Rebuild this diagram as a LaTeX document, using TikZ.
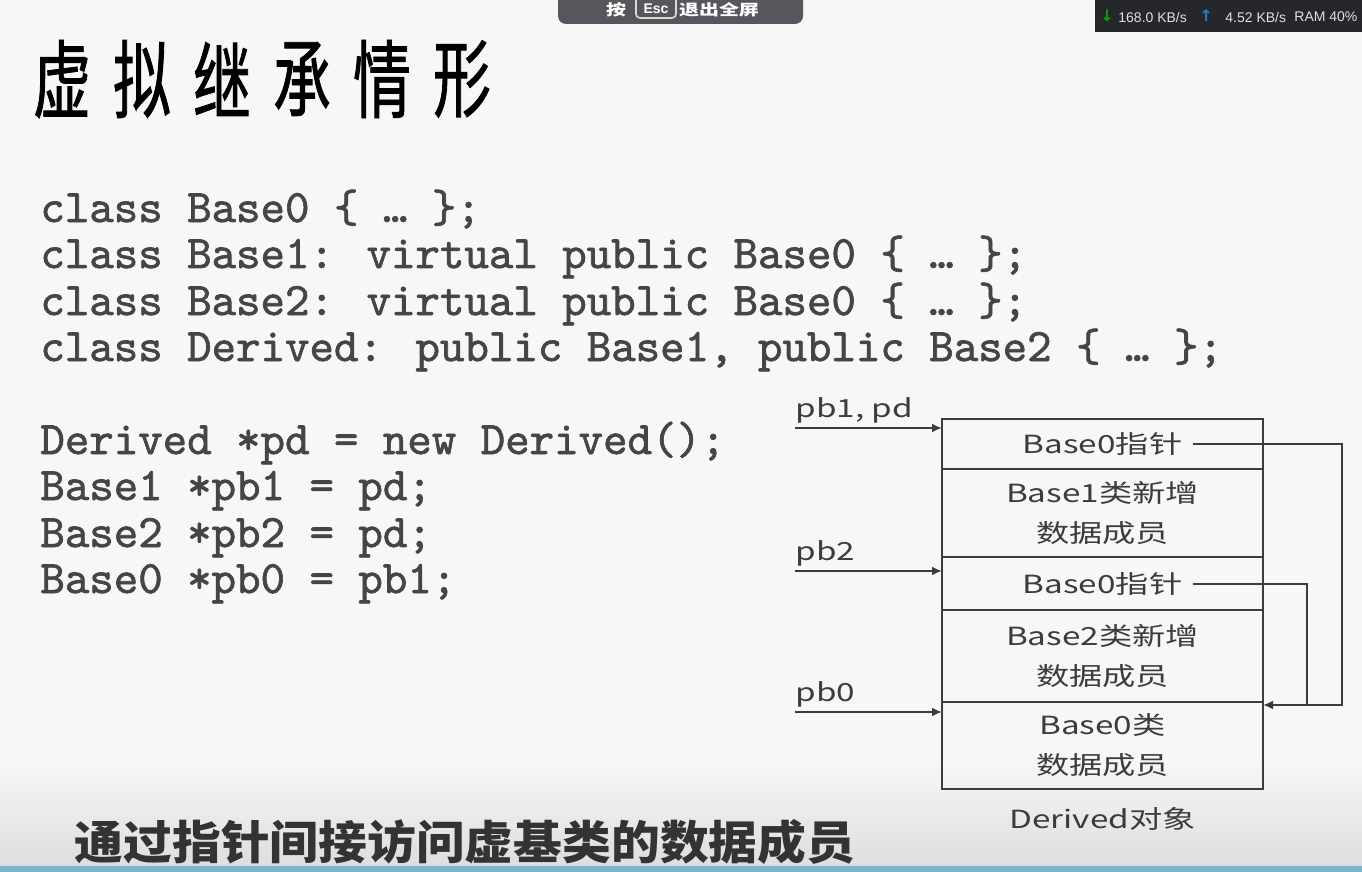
\documentclass[tikz,border=0pt]{standalone}
\usepackage{fontspec}
\setmainfont{Liberation Sans}
\newfontfamily\codefont[Extension=.otf, FakeBold=1.4]{lmmono10-regular}
\newfontfamily\cjkwide[FakeStretch=1.33]{Noto Sans CJK SC}
\newfontfamily\cjktitle[FakeStretch=0.68, FakeBold=1]{Noto Sans CJK SC}
\newfontfamily\cjkfoot[FakeStretch=1.06]{Noto Sans CJK SC}
\newfontfamily\symfont{DejaVu Sans}
\usetikzlibrary{positioning,arrows.meta}

\definecolor{inkgray}{HTML}{3C3C3C}
\definecolor{codegray}{HTML}{454545}
\definecolor{barbg}{HTML}{55575C}
\definecolor{statbg}{HTML}{25272B}
\definecolor{edgeblue}{HTML}{7DB4CB}

\tikzset{
  code/.style={anchor=base west, inner sep=0pt, text=codegray, font=\codefont\fontsize{23.3}{25}\selectfont},
  cell/.style={draw=inkgray, line width=1.3pt, minimum width=160.5pt, inner sep=0pt, outer sep=0pt, align=center, text=inkgray, font=\cjkwide\fontsize{12.5}{20}\selectfont},
  lbl/.style={inner sep=0pt, text=inkgray, font=\cjkwide\fontsize{12.5}{20}\selectfont},
  ptr/.style={draw=inkgray, line width=1pt, -{Latex[length=5pt,width=4.5pt]}},
  link/.style={draw=inkgray, line width=1pt},
  stat/.style={inner sep=0pt, text=white!88!black, font=\fontsize{7}{8}\selectfont},
  hint/.style={inner sep=0pt, text=white, font=\cjkwide\bfseries\fontsize{7.5}{8}\selectfont},
}

\begin{document}
\begin{tikzpicture}[x=0.5pt, y=-0.5pt]
    % page and screen overlays
    \useasboundingbox (0,0) rectangle (1362,872);
    \fill[white!97!black] (0,0) rectangle (1362,872);
    \shade[top color=white!97!black, bottom color=black!13] (0,760) rectangle (1362,866);
    \fill[edgeblue] (0,866) rectangle (1362,872);

    \fill[barbg, rounded corners=4pt] (558,-12) rectangle (803,24);
    \draw[white!85!black, rounded corners=2pt, line width=0.8pt] (636,-6) rectangle (676,18);
    \node[hint] (hint1) at (616,10) {按};
    \node[hint, font=\bfseries\fontsize{7}{8}\selectfont] (hint2) at (656,9) {Esc};
    \node[hint] (hint3) at (719,10) {退出全屏};

    \fill[statbg] (1095,0) rectangle (1362,32);
    \node[stat, text=green!65!black, font=\symfont\bfseries\fontsize{8}{9}\selectfont] (dnarrow) at (1107,16) {↓};
    \node[stat, anchor=west] (dnrate) at (1118,17) {168.0 KB/s};
    \node[stat, text=cyan!70!blue, font=\symfont\bfseries\fontsize{8}{9}\selectfont] (uparrow) at (1206,16) {↑};
    \node[stat, anchor=west] (uprate) at (1225,17) {4.52 KB/s};
    \node[stat, anchor=west] (ram) at (1294,17) {RAM 40\%};

    % title
    \foreach \ch [count=\i] in {虚,拟,继,承,情,形}
        \node[inner sep=0pt, text=black, font=\cjktitle\fontsize{42.5}{44}\selectfont] (ttl\i) at ({62+80*(\i-1)},79) {\ch};

    % class declarations
    \node[code] (c1) at (40,222) {class Base0 \{ … \};};
    \node[code] (c2) at (40,268) {class Base1: virtual public Base0 \{ … \};};
    \node[code] (c3) at (40,315) {class Base2: virtual public Base0 \{ … \};};
    \node[code] (c4) at (40,361) {class Derived: public Base1, public Base2 \{ … \};};

    % pointers
    \node[code] (d1) at (40,454) {Derived *pd = new Derived();};
    \node[code] (d2) at (40,500) {Base1 *pb1 = pd;};
    \node[code] (d3) at (40,547) {Base2 *pb2 = pd;};
    \node[code] (d4) at (40,593) {Base0 *pb0 = pb1;};

    % object layout
    \node[cell, minimum height=25pt] (r1) at (1102.5,444) {Base0指针};
    \node[cell, minimum height=44pt, below=0pt of r1] (r2) {Base1类新增\\数据成员};
    \node[cell, minimum height=26.5pt, below=0pt of r2] (r3) {Base0指针};
    \node[cell, minimum height=46pt, below=0pt of r3] (r4) {Base2类新增\\数据成员};
    \node[cell, minimum height=43.5pt, below=0pt of r4] (r5) {Base0类\\数据成员};
    \node[lbl, below=9pt of r5] (obj) {Derived对象};

    \coordinate (in1) at (795,428);
    \coordinate (in2) at (795,571);
    \coordinate (in3) at (795,712);
    \node[lbl, above right=2pt and 0pt of in1] (p1) {pb1, pd};
    \node[lbl, above right=2pt and 0pt of in2] (p2) {pb2};
    \node[lbl, above right=2pt and 0pt of in3] (p3) {pb0};
    \draw[ptr] (in1) -- (in1 -| r1.west);
    \draw[ptr] (in2) -- (in2 -| r3.west);
    \draw[ptr] (in3) -- (in3 -| r5.west);

    \coordinate (jn) at ([yshift=-1.5pt]r5.north east);
    \draw[ptr] ([xshift=45pt]r1.center) -| ([xshift=39.5pt]jn) -- (jn);
    \draw[link] ([xshift=45pt]r3.center) -| ([xshift=22pt]jn);

    % caption
    \node[inner sep=0pt, text=black!80, font=\cjkfoot\bfseries\fontsize{23}{24}\selectfont] (foot) at (465,842) {通过指针间接访问虚基类的数据成员};
\end{tikzpicture}
\end{document}
